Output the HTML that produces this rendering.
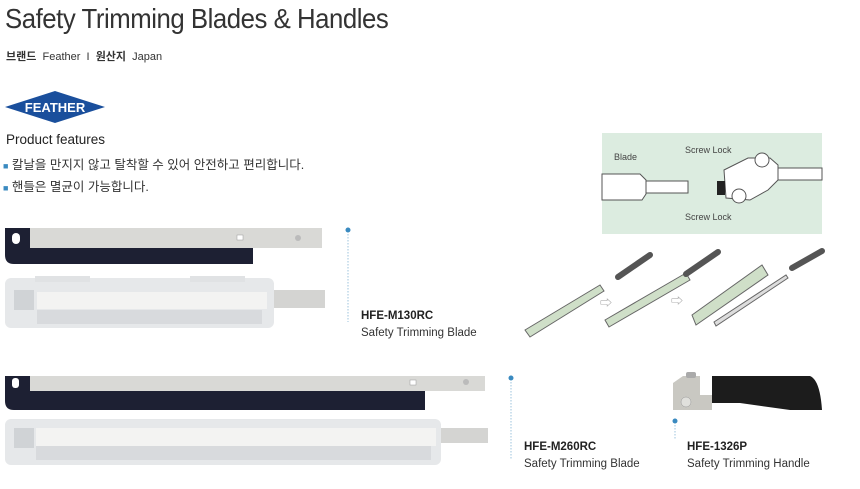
<!DOCTYPE html>
<html><head><meta charset="utf-8"><style>
body{margin:0;width:860px;height:489px;background:#fff;position:relative;overflow:hidden;font-family:"Liberation Sans","Noto Sans CJK KR",sans-serif;color:#333}
.a{position:absolute;white-space:nowrap}
</style></head><body>
<div class="a" style="left:5px;top:3px;font-size:28px;color:#333;letter-spacing:-0.5px;transform:scaleX(0.92);transform-origin:0 0">Safety Trimming Blades &amp; Handles</div>
<div class="a" style="left:6px;top:48px;font-size:11px;color:#333"><b>브랜드</b>&nbsp; Feather &nbsp;I&nbsp; <b>원산지</b>&nbsp; Japan</div>
<svg class="a" style="left:5px;top:91px" width="102" height="33"><polygon points="0,16 50,0 100,16 50,32" fill="#1a4f9c"/><text x="50" y="21" text-anchor="middle" font-family="Liberation Sans" font-weight="bold" font-size="13" fill="#fff">FEATHER</text></svg>
<div class="a" style="left:6px;top:132px;font-size:13.5px;color:#222">Product features</div>
<div class="a" style="left:3px;top:154px;font-size:12.5px;color:#333"><span style="color:#3a8ac0;font-size:9px">■</span> 칼날을 만지지 않고 탈착할 수 있어 안전하고 편리합니다.</div>
<div class="a" style="left:3px;top:176px;font-size:12.5px;color:#333"><span style="color:#3a8ac0;font-size:9px">■</span> 핸들은 멸균이 가능합니다.</div>

<svg class="a" style="left:0;top:0" width="860" height="489">
<rect x="602" y="133" width="220" height="101" fill="#dcece0"/>
<g stroke="#555" stroke-width="1" fill="#fff">
<path d="M602 174 H640 L646 180 V194 L642 200 H602 Z"/>
<rect x="646" y="181" width="42" height="12"/>
<path d="M724 170 L748 158 H770 L778 165 V180 L768 190 L750 200 L726 198 Z"/>
<path d="M778 168 H822 V180 H778 Z"/>
<circle cx="762" cy="160" r="7"/><circle cx="739" cy="196" r="7"/>
</g>
<rect x="717" y="181" width="8" height="14" fill="#222"/>
<text x="614" y="160" font-size="9" fill="#444" font-family="Liberation Sans">Blade</text>
<text x="685" y="153" font-size="9" fill="#444" font-family="Liberation Sans">Screw Lock</text>
<text x="685" y="220" font-size="9" fill="#444" font-family="Liberation Sans">Screw Lock</text>
<g stroke="#666" stroke-width="1">
<polygon points="525,330 600,285 604,291 530,337" fill="#cfdfc8"/>
<polygon points="605,320 686,273 690,280 609,327" fill="#cfdfc8"/>
<polygon points="692,315 762,265 768,275 696,325" fill="#cfdfc8"/>
<polygon points="714,322 786,275 788,278 716,326" fill="#ddd"/>
</g>
<g stroke="#555" stroke-width="6" stroke-linecap="round"><line x1="618" y1="277" x2="650" y2="255"/><line x1="686" y1="274" x2="718" y2="252"/><line x1="792" y1="268" x2="822" y2="251"/></g>
<text x="600" y="307" font-size="12" fill="#999">⇨</text><text x="671" y="305" font-size="12" fill="#999">⇨</text>
<path d="M5 228 H253 V264 H14 Q5 264 5 255 Z" fill="#1d2033"/>
<rect x="30" y="228" width="292" height="20" fill="#d9d9d6"/>
<rect x="12" y="233" width="8" height="11" rx="4" fill="#fff"/>
<rect x="237" y="235" width="6" height="5" fill="#fff" stroke="#999" stroke-width=".5"/>
<circle cx="298" cy="238" r="3" fill="#bbb"/>
<rect x="273" y="290" width="52" height="18" fill="#d4d4d2"/>
<rect x="5" y="278" width="269" height="50" rx="6" fill="#e6e8ea"/>
<rect x="35" y="276" width="55" height="6" fill="#e0e2e4"/><rect x="190" y="276" width="55" height="6" fill="#e0e2e4"/>
<rect x="37" y="292" width="230" height="17" fill="#f3f3f2"/>
<rect x="14" y="290" width="20" height="20" fill="#d0d3d6"/>
<rect x="37" y="310" width="225" height="14" fill="#d8dadd"/>
<path d="M5 376 H425 V410 H14 Q5 410 5 401 Z" fill="#1d2033"/>
<rect x="30" y="376" width="455" height="15" fill="#d9d9d6"/>
<rect x="12" y="378" width="7" height="10" rx="3" fill="#fff"/>
<rect x="410" y="380" width="6" height="5" fill="#fff" stroke="#999" stroke-width=".5"/>
<circle cx="466" cy="382" r="3" fill="#bbb"/>
<rect x="440" y="428" width="48" height="15" fill="#d4d4d2"/>
<rect x="5" y="419" width="436" height="46" rx="6" fill="#e6e8ea"/>
<rect x="36" y="428" width="400" height="18" fill="#f3f3f2"/>
<rect x="14" y="428" width="20" height="20" fill="#d0d3d6"/>
<rect x="36" y="446" width="395" height="14" fill="#d8dadd"/>
<path d="M712 376 H810 Q820 380 822 410 H790 L740 403 H712 Z" fill="#1c1c1c"/>
<path d="M673 383 L683 376 H700 V395 H712 V410 H673 Z" fill="#c9c8c2"/>
<circle cx="686" cy="402" r="5" fill="#e0e0dc" stroke="#999" stroke-width=".5"/>
<rect x="686" y="372" width="10" height="6" rx="2" fill="#aaa"/>
<g stroke="#9cc3dc" stroke-width="1" stroke-dasharray="1.5,1.5"><line x1="348" y1="231" x2="348" y2="322"/><line x1="511" y1="379" x2="511" y2="460"/><line x1="675" y1="422" x2="675" y2="440"/></g>
<g fill="#3a8ac0"><circle cx="348" cy="230" r="2.5"/><circle cx="511" cy="378" r="2.5"/><circle cx="675" cy="421" r="2.5"/></g>
</svg>
<div class="a" style="left:361px;top:310px;font-size:11.5px;font-weight:bold;color:#222">HFE-M130RC</div>
<div class="a" style="left:361px;top:327px;font-size:11.5px;color:#333">Safety Trimming Blade</div>
<div class="a" style="left:524px;top:441px;font-size:11.5px;font-weight:bold;color:#222">HFE-M260RC</div>
<div class="a" style="left:524px;top:458px;font-size:11.5px;color:#333">Safety Trimming Blade</div>
<div class="a" style="left:687px;top:441px;font-size:11.5px;font-weight:bold;color:#222">HFE-1326P</div>
<div class="a" style="left:687px;top:458px;font-size:11.5px;color:#333">Safety Trimming Handle</div>
</body></html>
